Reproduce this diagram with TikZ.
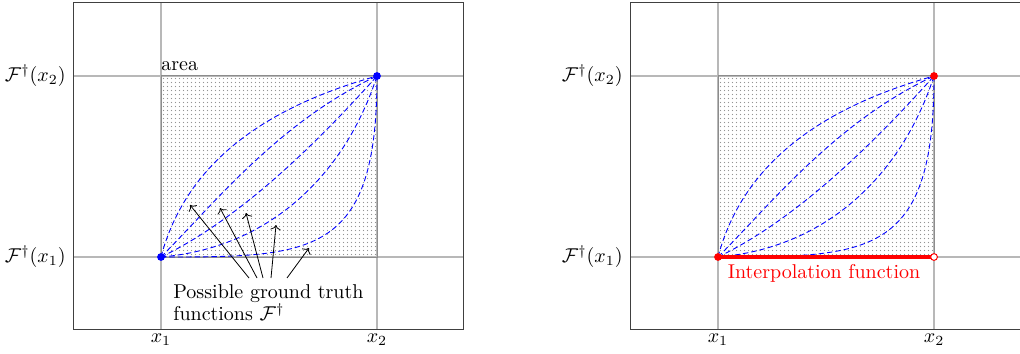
\documentclass[tikz,border=0pt]{standalone}
\usetikzlibrary{arrows.meta}
\begin{document}
\begin{tikzpicture}[x=0.5pt,y=-0.5pt,
  axisbox/.style={draw=black!75, line width=0.5pt},
  gridline/.style={draw=black!28, line width=0.6pt},
  areabox/.style={draw=black!45, line width=0.5pt},
  areadot/.style={fill=black!42},
  gt/.style={blue, dash pattern=on 2.7pt off 1.5pt, line width=0.45pt},
  ptnode/.style={circle, inner sep=0pt, minimum size=3.9pt, fill=#1},
  opennode/.style={circle, inner sep=0pt, minimum size=3.4pt, draw=red, line width=0.5pt, fill=white},
  lbl/.style={font=\fontsize{10}{11}\selectfont, inner sep=0pt},
  ptr/.style={->, line width=0.4pt, black},
  interp/.style={red, line width=2pt},
]
\useasboundingbox (0,0) rectangle (1020,353);

% ================= LEFT PANEL =================
\draw[gridline] (161,3) -- (161,329);
\draw[gridline] (377,3) -- (377,329);
\draw[gridline] (73,76) -- (463,76);
\draw[gridline] (73,257) -- (463,257);
\foreach \i in {0,...,53} { \foreach \j in {0,...,44} {
  \fill[areadot] (163.5+\i*4, 78.5+\j*4) circle (0.33pt); } }
\draw[areabox] (161,76) rectangle (377,257);
\draw[axisbox] (73,3) rectangle (463,329);

\begin{scope}[shift={(161,257)}, x=108pt, y=90.5pt]
  \draw[gt] (0,0) .. controls (0.1,0.45) and (0.4,0.8) .. (1,1);
  \draw[gt] (0,0) .. controls (0.25,0.3) and (0.55,0.75) .. (1,1);
  \draw[gt] (0,0) .. controls (0.35,0.2) and (0.7,0.6) .. (1,1);
  \draw[gt] (0,0) .. controls (0.5,0.05) and (0.85,0.45) .. (1,1);
  \draw[gt] (0,0) .. controls (0.7,0) and (1,0) .. (1,1);
\end{scope}

\node[ptnode=blue] (Lp1) at (161,257) {};
\node[ptnode=blue] (Lp2) at (377,76) {};

\node[lbl, anchor=base west] (Larea) at (161,70) {area};
\node[lbl, anchor=east] (Ly2) at (66,76) {$\mathcal{F}^\dagger(x_2)$};
\node[lbl, anchor=east] (Ly1) at (66,257) {$\mathcal{F}^\dagger(x_1)$};
\node[lbl, anchor=north] (Lx1) at (161,333) {$x_1$};
\node[lbl, anchor=north] (Lx2) at (377,333) {$x_2$};

\node[lbl, anchor=north west, align=left] (Lgt) at (173,284)
  {Possible ground truth\\functions $\mathcal{F}^\dagger$};

\coordinate (t1) at (249,278); \coordinate (h1) at (190,205);
\coordinate (t2) at (257,278); \coordinate (h2) at (220,208);
\coordinate (t3) at (263,278); \coordinate (h3) at (246,213);
\coordinate (t4) at (271,278); \coordinate (h4) at (276,225);
\coordinate (t5) at (287,278); \coordinate (h5) at (309,248);
\foreach \i in {1,...,5} { \draw[ptr] (t\i) -- (h\i); }

% ================= RIGHT PANEL =================
\draw[gridline] (718,3) -- (718,329);
\draw[gridline] (934,3) -- (934,329);
\draw[gridline] (630,76) -- (1020,76);
\draw[gridline] (630,257) -- (1020,257);
\foreach \i in {0,...,53} { \foreach \j in {0,...,44} {
  \fill[areadot] (720.5+\i*4, 78.5+\j*4) circle (0.33pt); } }
\draw[areabox] (718,76) rectangle (934,257);
\draw[axisbox] (630,3) rectangle (1020,329);

\begin{scope}[shift={(718,257)}, x=108pt, y=90.5pt]
  \draw[gt] (0,0) .. controls (0.1,0.45) and (0.4,0.8) .. (1,1);
  \draw[gt] (0,0) .. controls (0.25,0.3) and (0.55,0.75) .. (1,1);
  \draw[gt] (0,0) .. controls (0.35,0.2) and (0.7,0.6) .. (1,1);
  \draw[gt] (0,0) .. controls (0.5,0.05) and (0.85,0.45) .. (1,1);
  \draw[gt] (0,0) .. controls (0.7,0) and (1,0) .. (1,1);
\end{scope}

\coordinate (Rc1) at (718,257);
\coordinate (Rc3) at (934,257);
\draw[interp] (Rc1) -- (Rc3);
\node[ptnode=red] (Rp1) at (Rc1) {};
\node[ptnode=red] (Rp2) at (934,76) {};
\node[opennode] (Rp3) at (Rc3) {};

\node[lbl, anchor=east] (Ry2) at (623,76) {$\mathcal{F}^\dagger(x_2)$};
\node[lbl, anchor=east] (Ry1) at (623,257) {$\mathcal{F}^\dagger(x_1)$};
\node[lbl, anchor=north] (Rx1) at (718,333) {$x_1$};
\node[lbl, anchor=north] (Rx2) at (934,333) {$x_2$};
\node[lbl, anchor=base, text=red] (Rint) at (824,278) {Interpolation function};

\end{tikzpicture}
\end{document}
